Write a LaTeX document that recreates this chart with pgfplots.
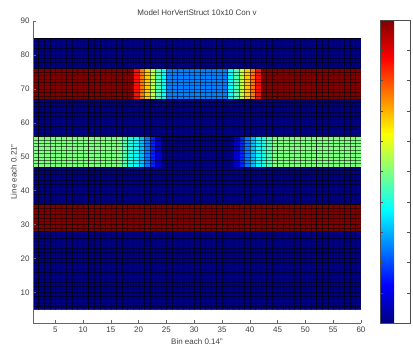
\documentclass[border=0pt]{standalone}
\usepackage{pgfplots}
\pgfplotsset{compat=1.18}
\usepackage{fontspec}
\setmainfont{Liberation Sans}
\begin{document}
\begin{tikzpicture}
\begin{axis}[
  scale only axis, width=328pt, height=302pt,
  xmin=1, xmax=60, ymin=1, ymax=90,
  axis x line*=bottom, axis y line*=left,
  axis line style={black!60, line width=0.5pt, -},
  xtick={5,10,...,60}, ytick={10,20,...,90},
  minor ytick={5,6,...,85}, yminorgrids, minor tick length=0pt,
  minor grid style={black, line width=0.25pt, opacity=0.55},
  axis on top,
  tick align=inside, major tick length=3pt,
  every tick/.style={black!60},
  font=\fontsize{8}{9.6}\selectfont,
  tick label style={font=\fontsize{8}{9.6}\selectfont, black!75},
  label style={font=\fontsize{8}{9.6}\selectfont, black!75},
  title style={font=\fontsize{8}{9.6}\selectfont, black!75, yshift=-4pt},
  ylabel style={yshift=-3pt},
  /pgf/number format/assume math mode=true,
  title={Model HorVertStruct 10x10 Con v},
  xlabel={Bin each 0.14"}, ylabel={Line each 0.21"},
  colormap/jet, point meta min=0, point meta max=2,
  colorbar,
  colorbar style={
    scale only axis, width=30pt, height=303pt,
    at={(1.058,1.003)}, anchor=north west,
    ytick={0,0.2,...,2},
    yticklabel style={/pgf/number format/fixed, font=\fontsize{8}{9.6}\selectfont, black!75},
    major tick length=3pt,
    every tick/.style={black!70},
    axis line style={black!70},
  },
]
\addplot[surf, shader=flat corner, draw=black, draw opacity=0.55, line width=0.25pt,
  mesh/cols=60, mesh/rows=8, point meta=explicit]
table[header=false, x index=0, y index=1, meta index=2] {
1 5 0
2 5 0
3 5 0
4 5 0
5 5 0
6 5 0
7 5 0
8 5 0
9 5 0
10 5 0
11 5 0
12 5 0
13 5 0
14 5 0
15 5 0
16 5 0
17 5 0
18 5 0
19 5 0
20 5 0
21 5 0
22 5 0
23 5 0
24 5 0
25 5 0
26 5 0
27 5 0
28 5 0
29 5 0
30 5 0
31 5 0
32 5 0
33 5 0
34 5 0
35 5 0
36 5 0
37 5 0
38 5 0
39 5 0
40 5 0
41 5 0
42 5 0
43 5 0
44 5 0
45 5 0
46 5 0
47 5 0
48 5 0
49 5 0
50 5 0
51 5 0
52 5 0
53 5 0
54 5 0
55 5 0
56 5 0
57 5 0
58 5 0
59 5 0
60 5 0
1 28 2
2 28 2
3 28 2
4 28 2
5 28 2
6 28 2
7 28 2
8 28 2
9 28 2
10 28 2
11 28 2
12 28 2
13 28 2
14 28 2
15 28 2
16 28 2
17 28 2
18 28 2
19 28 2
20 28 2
21 28 2
22 28 2
23 28 2
24 28 2
25 28 2
26 28 2
27 28 2
28 28 2
29 28 2
30 28 2
31 28 2
32 28 2
33 28 2
34 28 2
35 28 2
36 28 2
37 28 2
38 28 2
39 28 2
40 28 2
41 28 2
42 28 2
43 28 2
44 28 2
45 28 2
46 28 2
47 28 2
48 28 2
49 28 2
50 28 2
51 28 2
52 28 2
53 28 2
54 28 2
55 28 2
56 28 2
57 28 2
58 28 2
59 28 2
60 28 2
1 36 0
2 36 0
3 36 0
4 36 0
5 36 0
6 36 0
7 36 0
8 36 0
9 36 0
10 36 0
11 36 0
12 36 0
13 36 0
14 36 0
15 36 0
16 36 0
17 36 0
18 36 0
19 36 0
20 36 0
21 36 0
22 36 0
23 36 0
24 36 0
25 36 0
26 36 0
27 36 0
28 36 0
29 36 0
30 36 0
31 36 0
32 36 0
33 36 0
34 36 0
35 36 0
36 36 0
37 36 0
38 36 0
39 36 0
40 36 0
41 36 0
42 36 0
43 36 0
44 36 0
45 36 0
46 36 0
47 36 0
48 36 0
49 36 0
50 36 0
51 36 0
52 36 0
53 36 0
54 36 0
55 36 0
56 36 0
57 36 0
58 36 0
59 36 0
60 36 0
1 47 1.0
2 47 1.0
3 47 1.0
4 47 1.0
5 47 1.0
6 47 1.0
7 47 1.0
8 47 1.0
9 47 1.0
10 47 1.0
11 47 1.0
12 47 1.0
13 47 1.0
14 47 1.0
15 47 1.0
16 47 1.0
17 47 0.9
18 47 0.8
19 47 0.74
20 47 0.62
21 47 0.48
22 47 0.32
23 47 0.16
24 47 0
25 47 0
26 47 0
27 47 0
28 47 0
29 47 0
30 47 0
31 47 0
32 47 0
33 47 0
34 47 0
35 47 0
36 47 0
37 47 0.16
38 47 0.32
39 47 0.48
40 47 0.62
41 47 0.74
42 47 0.8
43 47 0.9
44 47 1.0
45 47 1.0
46 47 1.0
47 47 1.0
48 47 1.0
49 47 1.0
50 47 1.0
51 47 1.0
52 47 1.0
53 47 1.0
54 47 1.0
55 47 1.0
56 47 1.0
57 47 1.0
58 47 1.0
59 47 1.0
60 47 1.0
1 56 0
2 56 0
3 56 0
4 56 0
5 56 0
6 56 0
7 56 0
8 56 0
9 56 0
10 56 0
11 56 0
12 56 0
13 56 0
14 56 0
15 56 0
16 56 0
17 56 0
18 56 0
19 56 0
20 56 0
21 56 0
22 56 0
23 56 0
24 56 0
25 56 0
26 56 0
27 56 0
28 56 0
29 56 0
30 56 0
31 56 0
32 56 0
33 56 0
34 56 0
35 56 0
36 56 0
37 56 0
38 56 0
39 56 0
40 56 0
41 56 0
42 56 0
43 56 0
44 56 0
45 56 0
46 56 0
47 56 0
48 56 0
49 56 0
50 56 0
51 56 0
52 56 0
53 56 0
54 56 0
55 56 0
56 56 0
57 56 0
58 56 0
59 56 0
60 56 0
1 67 2
2 67 2
3 67 2
4 67 2
5 67 2
6 67 2
7 67 2
8 67 2
9 67 2
10 67 2
11 67 2
12 67 2
13 67 2
14 67 2
15 67 2
16 67 2
17 67 2
18 67 2
19 67 1.72
20 67 1.52
21 67 1.36
22 67 1.12
23 67 0.9
24 67 0.75
25 67 0.5
26 67 0.5
27 67 0.5
28 67 0.5
29 67 0.5
30 67 0.5
31 67 0.5
32 67 0.5
33 67 0.5
34 67 0.5
35 67 0.5
36 67 0.75
37 67 0.9
38 67 1.12
39 67 1.36
40 67 1.52
41 67 1.72
42 67 2
43 67 2
44 67 2
45 67 2
46 67 2
47 67 2
48 67 2
49 67 2
50 67 2
51 67 2
52 67 2
53 67 2
54 67 2
55 67 2
56 67 2
57 67 2
58 67 2
59 67 2
60 67 2
1 76 0
2 76 0
3 76 0
4 76 0
5 76 0
6 76 0
7 76 0
8 76 0
9 76 0
10 76 0
11 76 0
12 76 0
13 76 0
14 76 0
15 76 0
16 76 0
17 76 0
18 76 0
19 76 0
20 76 0
21 76 0
22 76 0
23 76 0
24 76 0
25 76 0
26 76 0
27 76 0
28 76 0
29 76 0
30 76 0
31 76 0
32 76 0
33 76 0
34 76 0
35 76 0
36 76 0
37 76 0
38 76 0
39 76 0
40 76 0
41 76 0
42 76 0
43 76 0
44 76 0
45 76 0
46 76 0
47 76 0
48 76 0
49 76 0
50 76 0
51 76 0
52 76 0
53 76 0
54 76 0
55 76 0
56 76 0
57 76 0
58 76 0
59 76 0
60 76 0
1 85 0
2 85 0
3 85 0
4 85 0
5 85 0
6 85 0
7 85 0
8 85 0
9 85 0
10 85 0
11 85 0
12 85 0
13 85 0
14 85 0
15 85 0
16 85 0
17 85 0
18 85 0
19 85 0
20 85 0
21 85 0
22 85 0
23 85 0
24 85 0
25 85 0
26 85 0
27 85 0
28 85 0
29 85 0
30 85 0
31 85 0
32 85 0
33 85 0
34 85 0
35 85 0
36 85 0
37 85 0
38 85 0
39 85 0
40 85 0
41 85 0
42 85 0
43 85 0
44 85 0
45 85 0
46 85 0
47 85 0
48 85 0
49 85 0
50 85 0
51 85 0
52 85 0
53 85 0
54 85 0
55 85 0
56 85 0
57 85 0
58 85 0
59 85 0
60 85 0
};
\end{axis}
\pgfresetboundingbox
\path ([shift={(-33pt,-28pt)}]current axis.south west) rectangle ([shift={(380pt,323pt)}]current axis.south west);
\end{tikzpicture}
\end{document}
